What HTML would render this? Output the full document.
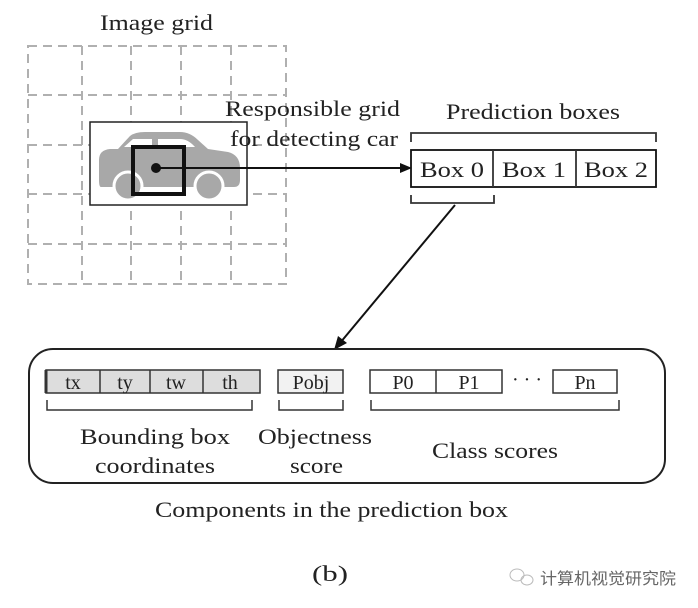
<!DOCTYPE html>
<html><head><style>body{margin:0;background:#fff}svg{display:block}</style></head><body>
<svg width="698" height="608" viewBox="0 0 698 608" xmlns="http://www.w3.org/2000/svg" font-family="Liberation Serif, serif" fill="#222">
<g stroke="#b0b0b0" stroke-width="2" stroke-dasharray="9,6" fill="none">
<rect x="28" y="46" width="258" height="238"/>
<line x1="82" y1="46" x2="82" y2="284"/><line x1="131" y1="46" x2="131" y2="284"/><line x1="181" y1="46" x2="181" y2="284"/><line x1="231" y1="46" x2="231" y2="284"/>
<line x1="28" y1="95" x2="286" y2="95"/><line x1="28" y1="145" x2="286" y2="145"/><line x1="28" y1="194" x2="286" y2="194"/><line x1="28" y1="244" x2="286" y2="244"/>
</g>
<rect x="90" y="122" width="157" height="83" fill="#fff" stroke="#222" stroke-width="1.5"/>
<g fill="#a8a8a8">
<path d="M99 160 Q99 150 110 149 L118 149 L130 136 Q135 132 145 132 L180 132 Q190 132 198 140 L208 149 L228 152 Q240 155 240 168 L240 180 Q240 187 234 187 L101 187 Q99 187 99 180 Z"/>
<circle cx="128" cy="186" r="14" stroke="#fff" stroke-width="3"/>
<circle cx="209" cy="186" r="14" stroke="#fff" stroke-width="3"/>
</g>
<path d="M124 147 L133 139 L152 139 L152 147 Z M158 139 L180 139 Q188 139 195 147 L158 147 Z" fill="#fff"/>
<rect x="133" y="147" width="51" height="47" fill="none" stroke="#111" stroke-width="4"/>
<circle cx="156" cy="168" r="5" fill="#111"/>
<line x1="156" y1="168" x2="402" y2="168" stroke="#111" stroke-width="2"/>
<polygon points="412,168 400,163 400,173" fill="#111"/>
<g font-size="22">
<text x="100" y="30" textLength="113" lengthAdjust="spacingAndGlyphs">Image grid</text>
<text x="225" y="116" textLength="175" lengthAdjust="spacingAndGlyphs">Responsible grid</text>
<text x="230" y="146" textLength="168" lengthAdjust="spacingAndGlyphs">for detecting car</text>
<text x="446" y="119" textLength="174" lengthAdjust="spacingAndGlyphs">Prediction boxes</text>
</g>
<g fill="none" stroke="#333" stroke-width="1.8">
<path d="M411 142 L411 133 L656 133 L656 142"/>
<rect x="411" y="150" width="245" height="37" stroke="#111"/>
<line x1="493" y1="150" x2="493" y2="187"/><line x1="576" y1="150" x2="576" y2="187"/>
<path d="M411 195 L411 203 L494 203 L494 195"/>
<line x1="455" y1="205" x2="340" y2="343" stroke="#111" stroke-width="2"/>
</g>
<polygon points="334,350 338,336 347,343" fill="#111"/>
<g font-size="22"><text x="420" y="177" textLength="64" lengthAdjust="spacingAndGlyphs">Box 0</text><text x="502" y="177" textLength="64" lengthAdjust="spacingAndGlyphs">Box 1</text><text x="584" y="177" textLength="64" lengthAdjust="spacingAndGlyphs">Box 2</text></g>
<rect x="29" y="349" width="636" height="134" rx="24" fill="none" stroke="#222" stroke-width="2"/>
<g stroke="#333" stroke-width="1.5">
<rect x="46" y="370" width="214" height="23" fill="#ddd"/>
<line x1="100" y1="370" x2="100" y2="393"/><line x1="150" y1="370" x2="150" y2="393"/><line x1="203" y1="370" x2="203" y2="393"/>
<line x1="46" y1="370" x2="46" y2="393" stroke-width="3"/>
<rect x="278" y="370" width="65" height="23" fill="#f2f2f2"/>
<rect x="370" y="370" width="132" height="23" fill="#fff"/><line x1="436" y1="370" x2="436" y2="393"/>
<rect x="553" y="370" width="64" height="23" fill="#fff"/>
<g fill="none"><path d="M47 400 L47 410 L252 410 L252 400"/><path d="M279 400 L279 410 L343 410 L343 400"/><path d="M371 400 L371 410 L619 410 L619 400"/></g>
</g>
<g font-size="20" text-anchor="middle">
<text x="73" y="389">tx</text><text x="125" y="389">ty</text><text x="176" y="389">tw</text><text x="230" y="389">th</text>
<text x="311" y="389">Pobj</text><text x="403" y="389">P0</text><text x="469" y="389">P1</text><text x="585" y="389">Pn</text>
<text x="527" y="386">· · ·</text>
</g>
<g font-size="22">
<text x="80" y="444" textLength="150" lengthAdjust="spacingAndGlyphs">Bounding box</text>
<text x="95" y="473" textLength="120" lengthAdjust="spacingAndGlyphs">coordinates</text>
<text x="258" y="444" textLength="114" lengthAdjust="spacingAndGlyphs">Objectness</text>
<text x="290" y="473" textLength="53" lengthAdjust="spacingAndGlyphs">score</text>
<text x="432" y="458" textLength="126" lengthAdjust="spacingAndGlyphs">Class scores</text>
<text x="155" y="517" textLength="353" lengthAdjust="spacingAndGlyphs">Components in the prediction box</text>
<text x="312" y="581" textLength="36" lengthAdjust="spacingAndGlyphs">(b)</text>
</g>
<g fill="none" stroke="#bbb" stroke-width="1"><ellipse cx="517" cy="575" rx="7" ry="6"/><ellipse cx="527" cy="580" rx="6" ry="5"/></g>
<text x="540" y="584" font-size="16" fill="#666" textLength="136" lengthAdjust="spacingAndGlyphs" font-family="Liberation Sans, Noto Sans CJK SC, sans-serif">计算机视觉研究院</text>
</svg>
</body></html>
